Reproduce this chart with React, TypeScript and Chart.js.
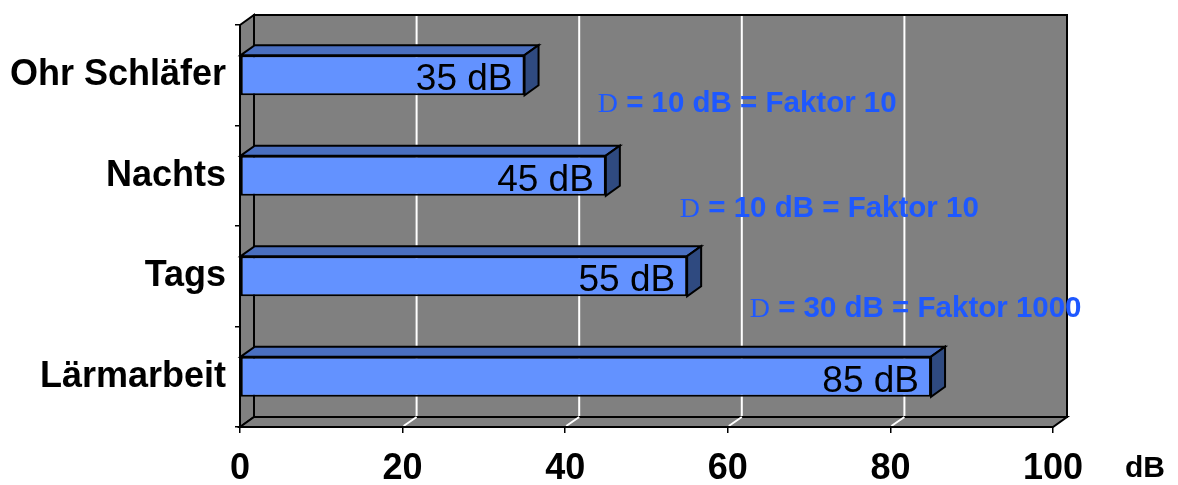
import React, { useEffect, useRef } from 'react';
import { Chart, registerables } from 'chart.js';

Chart.register(...registerables);

// ---- data ----
const categories: string[] = ['Ohr Schläfer', 'Nachts', 'Tags', 'Lärmarbeit'];
const levels: number[] = [35, 45, 55, 85];
const xMin = 0;
const xMax = 100;
const xStep = 20;
const unitLabel = 'dB';
const deltaSymbol = 'D';
const deltaTexts: string[] = ['= 10 dB = Faktor 10', '= 10 dB = Faktor 10', '= 30 dB = Faktor 1000'];

// ---- layout (data-space anchors for the annotations) ----
const deltaAnchorX: number[] = [44.0, 54.1, 62.7];
const deltaAnchorY: number[] = [0.366, 1.41, 2.41];

const W = 1178;
const H = 485;
const DX = 14;
const DY = 10;
const GRAY = '#808080';
const FRONT = '#6392ff';
const TOP = '#4a6fc0';
const SIDE = '#2f4a80';
const ANNO = '#1e58ff';
const SANS = "'Liberation Sans', Arial, sans-serif";
const SERIF = "'Liberation Serif', 'Times New Roman', serif";

export default function App() {
  const ref = useRef<HTMLCanvasElement>(null);

  useEffect(() => {
    const canvas = ref.current!;
    const threeD = {
      id: 'threeD',
      beforeDraw(chart: any) {
        const { ctx, chartArea: a, scales } = chart;
        const xs = scales.x;
        ctx.save();
        ctx.lineJoin = 'miter';
        // back wall
        ctx.fillStyle = GRAY;
        ctx.strokeStyle = '#000';
        ctx.lineWidth = 2;
        ctx.beginPath();
        ctx.rect(a.left + DX, a.top - DY, a.right - a.left, a.bottom - a.top);
        ctx.fill();
        ctx.stroke();
        // left wall
        ctx.beginPath();
        ctx.moveTo(a.left, a.top);
        ctx.lineTo(a.left + DX, a.top - DY);
        ctx.lineTo(a.left + DX, a.bottom - DY);
        ctx.lineTo(a.left, a.bottom);
        ctx.closePath();
        ctx.fill();
        ctx.stroke();
        // floor
        ctx.beginPath();
        ctx.moveTo(a.left, a.bottom);
        ctx.lineTo(a.left + DX, a.bottom - DY);
        ctx.lineTo(a.right + DX, a.bottom - DY);
        ctx.lineTo(a.right, a.bottom);
        ctx.closePath();
        ctx.fill();
        ctx.stroke();
        // grid lines (white) on back wall and floor
        ctx.strokeStyle = '#fff';
        ctx.lineWidth = 2;
        for (let v = xMin + xStep; v < xMax; v += xStep) {
          const px = xs.getPixelForValue(v);
          ctx.beginPath();
          ctx.moveTo(px + DX, a.top - DY + 1);
          ctx.lineTo(px + DX, a.bottom - DY - 1);
          ctx.moveTo(px + DX, a.bottom - DY);
          ctx.lineTo(px + 1, a.bottom - 1);
          ctx.stroke();
        }
        ctx.restore();
      },
      afterDatasetsDraw(chart: any) {
        const { ctx } = chart;
        const meta = chart.getDatasetMeta(0);
        ctx.save();
        ctx.strokeStyle = '#000';
        ctx.lineWidth = 2;
        ctx.lineJoin = 'miter';
        meta.data.forEach((bar: any, i: number) => {
          const x = bar.x;
          const base = bar.base;
          const top = bar.y - bar.height / 2;
          const bot = bar.y + bar.height / 2;
          // top face
          ctx.fillStyle = TOP;
          ctx.beginPath();
          ctx.moveTo(base, top);
          ctx.lineTo(base + DX, top - DY);
          ctx.lineTo(x + DX, top - DY);
          ctx.lineTo(x, top);
          ctx.closePath();
          ctx.fill();
          ctx.stroke();
          // side face
          ctx.fillStyle = SIDE;
          ctx.beginPath();
          ctx.moveTo(x, top);
          ctx.lineTo(x + DX, top - DY);
          ctx.lineTo(x + DX, bot - DY);
          ctx.lineTo(x, bot);
          ctx.closePath();
          ctx.fill();
          ctx.stroke();
          // value label
          ctx.fillStyle = '#000';
          ctx.font = `37px ${SANS}`;
          ctx.textAlign = 'right';
          ctx.textBaseline = 'alphabetic';
          ctx.fillText(`${levels[i]} dB`, x - 12, bar.y + 15);
        });
        ctx.restore();
      },
      afterDraw(chart: any) {
        const { ctx, chartArea: a, scales } = chart;
        ctx.save();
        ctx.textBaseline = 'alphabetic';
        ctx.textAlign = 'left';
        deltaTexts.forEach((t, i) => {
          const px = scales.x.getPixelForValue(deltaAnchorX[i]);
          const py = scales.y.getPixelForValue(deltaAnchorY[i]);
          ctx.fillStyle = ANNO;
          ctx.font = `28px ${SERIF}`;
          ctx.fillText(deltaSymbol, px, py);
          const w = ctx.measureText(deltaSymbol).width;
          ctx.font = `bold 29.5px ${SANS}`;
          ctx.fillText(' ' + t, px + w, py);
        });
        ctx.fillStyle = '#000';
        ctx.font = `bold 30px ${SANS}`;
        ctx.fillText(unitLabel, a.right + 72, 477);
        ctx.restore();
      },
    };

    const chart = new Chart(canvas, {
      type: 'bar',
      data: {
        labels: categories,
        datasets: [
          {
            data: levels,
            backgroundColor: FRONT,
            borderColor: '#000',
            borderWidth: 2,
            borderSkipped: false,
            categoryPercentage: 1,
            barPercentage: 0.4,
          },
        ],
      },
      options: {
        indexAxis: 'y',
        responsive: false,
        animation: false,
        layout: { padding: { top: 25, right: 125, left: 0, bottom: 0 } },
        plugins: { legend: { display: false }, tooltip: { enabled: false } },
        scales: {
          x: {
            min: xMin,
            max: xMax,
            ticks: {
              stepSize: xStep,
              color: '#000',
              font: { family: SANS, size: 36, weight: 'bold' },
              padding: 14,
              maxRotation: 0,
            },
            grid: { drawOnChartArea: false, drawTicks: true, tickLength: 6, color: '#000', lineWidth: 1.5 },
            border: { display: true, color: '#000', width: 2 },
            afterFit(scale: any) {
              scale.height = 58;
              scale.paddingLeft = 0;
              scale.paddingRight = 0;
            },
          },
          y: {
            ticks: {
              color: '#000',
              font: { family: SANS, size: 36, weight: 'bold' },
              padding: 9,
            },
            grid: { drawOnChartArea: false, drawTicks: true, tickLength: 5, color: '#000', lineWidth: 1.5, offset: true },
            border: { display: true, color: '#000', width: 2 },
            afterFit(scale: any) {
              scale.width = 240;
              scale.paddingTop = 0;
              scale.paddingBottom = 0;
            },
          },
        },
      },
      plugins: [threeD],
    } as any);

    return () => chart.destroy();
  }, []);

  return (
    <div style={{ position: 'absolute', left: 0, top: 0, width: W, height: H }}>
      <canvas ref={ref} width={W} height={H} style={{ width: W, height: H, display: 'block' }} />
    </div>
  );
}
